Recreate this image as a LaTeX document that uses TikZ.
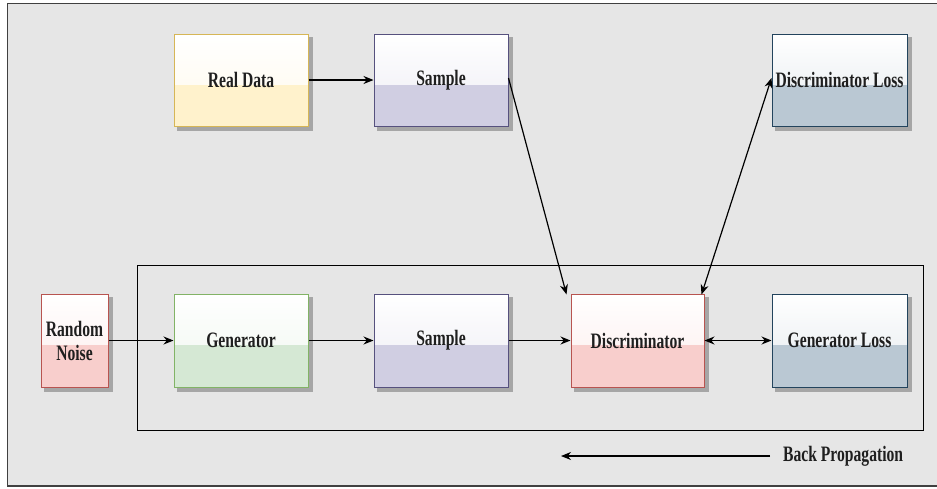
\documentclass[tikz,border=0pt]{standalone}
\usepackage{fontspec}
\setmainfont[FakeStretch=0.71]{Liberation Serif}
\usetikzlibrary{arrows.meta}
\pgfdeclarelayer{bglayer}
\pgfdeclarelayer{shadowlayer}
\pgfsetlayers{bglayer,shadowlayer,main}
\definecolor{bgc}{HTML}{E6E6E6}
\definecolor{yfill}{HTML}{FFF2CC}\definecolor{ydraw}{HTML}{D6B656}
\definecolor{pfill}{HTML}{D0CEE2}\definecolor{pdraw}{HTML}{56517E}
\definecolor{bfill}{HTML}{BAC8D3}\definecolor{bdraw}{HTML}{23445D}
\definecolor{rfill}{HTML}{F8CECC}\definecolor{rdraw}{HTML}{B85450}
\definecolor{gfill}{HTML}{D5E8D4}\definecolor{gdraw}{HTML}{82B366}
\tikzset{
  gbox/.style 2 args={draw=#2, fill=#1, line width=1pt,
    minimum width=134pt, minimum height=92pt, inner sep=2pt,
    font=\bfseries\fontsize{22}{24}\selectfont, text=black!88, align=center,
    path picture={
      \fill[top color=white, bottom color=#1!40!white]
        (path picture bounding box.north west) rectangle
        ([yshift=-4pt]path picture bounding box.east);
    }},
  boxshadow/.style={fill=black!35, draw=none},
  conn/.style={line width=1.2pt, -{Stealth[length=10pt,width=8pt]}},
  dconn/.style={line width=1.2pt, {Stealth[length=10pt,width=8pt]}-{Stealth[length=10pt,width=8pt]}},
}
\begin{document}
\begin{tikzpicture}[x=1pt,y=-1pt]
\useasboundingbox (0,0) rectangle (937,488);
\begin{pgfonlayer}{bglayer}
\fill[white] (0,0) rectangle (937,488);
\draw[fill=bgc, draw=black!75, line width=1.6pt] (7.5,3.5) rectangle (950,486);
\end{pgfonlayer}
\draw[black, line width=1pt] (137,265) rectangle (923,430);

\node[gbox={yfill}{ydraw}] (real) at (241,80) {Real Data};
\node[gbox={pfill}{pdraw}] (s1) at (441,80) {Sample};
\node[gbox={bfill}{bdraw}, minimum width=135pt] (dl) at (839.5,80) {Discriminator Loss};
\node[gbox={rfill}{rdraw}, minimum width=67pt, minimum height=93pt] (rn) at (74.5,340.5) {Random\\Noise};
\node[gbox={gfill}{gdraw}, minimum height=93pt] (gen) at (241,340.5) {Generator};
\node[gbox={pfill}{pdraw}, minimum height=93pt] (s2) at (441,340.5) {Sample};
\node[gbox={rfill}{rdraw}, minimum width=133pt, minimum height=93pt] (dis) at (637.5,340.5) {Discriminator};
\node[gbox={bfill}{bdraw}, minimum width=135pt, minimum height=93pt] (gl) at (839.5,340.5) {Generator Loss};

\begin{pgfonlayer}{shadowlayer}
\foreach \n in {real,s1,dl,rn,gen,s2,dis,gl}{
  \fill[boxshadow] ([shift={(3,3)}]\n.north west) rectangle ([shift={(4,4)}]\n.south east);
}
\end{pgfonlayer}

\draw[conn] (real) -- (s1);
\draw[conn] ([yshift=2pt]s1.east) -- ([xshift=-4pt,yshift=-1pt]dis.north west);
\draw[dconn] ([yshift=2pt]dl.west) -- ([xshift=-3pt,yshift=-1pt]dis.north east);
\draw[conn] (rn) -- (gen);
\draw[conn] (gen) -- (s2);
\draw[conn] (s2) -- (dis);
\draw[dconn] (dis) -- (gl);

\node[font=\bfseries\fontsize{22}{24}\selectfont, text=black!88, anchor=west, inner sep=0pt] (bp) at (783,456) {Back Propagation};
\coordinate (bpend) at (561,456);
\draw[conn] ([xshift=-13pt]bp.west) -- (bpend);
\end{tikzpicture}
\end{document}
